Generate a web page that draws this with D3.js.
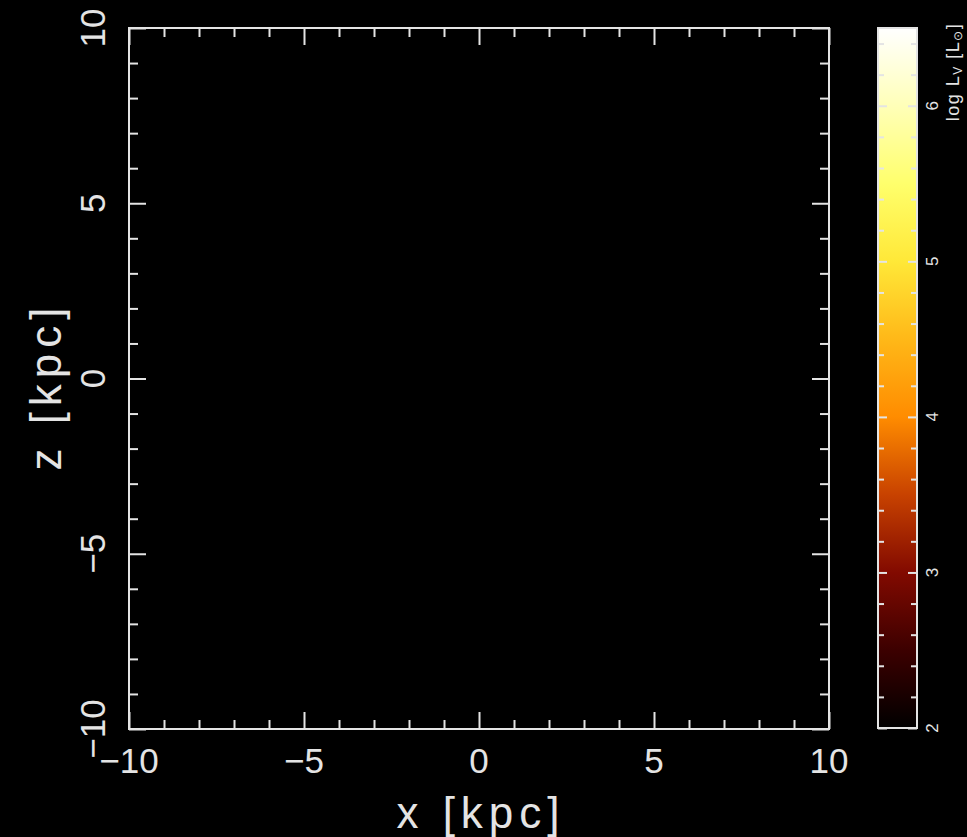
<!DOCTYPE html>
<html>
<head>
<meta charset="utf-8">
<script src="https://d3js.org/d3.v7.min.js"></script>
<style>
  body { margin: 0; background: #000; }
  svg { display: block; background: #000; }
  .tick line { stroke: #e4e4e4; stroke-width: 2; }
  .domain { display: none; }
  text { fill: #e4e4e4; font-family: "Liberation Sans", sans-serif; }
  rect.frame { fill: none; stroke: #e4e4e4; stroke-width: 2; }
</style>
</head>
<body>
<svg id="chart" width="967" height="837"></svg>
<script>
  // axis extents and ticks (kpc)
  var xDomain = [-10, 10];
  var zDomain = [-10, 10];
  var majorTicks = [-10, -5, 0, 5, 10];
  var minorTicks = [-9, -8, -7, -6, -4, -3, -2, -1, 1, 2, 3, 4, 6, 7, 8, 9];

  // colour bar: log L_V [L_sun]
  var cbDomain = [2, 6.5];
  var cbMajor = [2, 3, 4, 5, 6];
  var cbMinor = [2.2, 2.4, 2.6, 2.8, 3.2, 3.4, 3.6, 3.8, 4.2, 4.4, 4.6, 4.8,
                 5.2, 5.4, 5.6, 5.8, 6.2, 6.4];
  var cbStopValues = [2.0, 2.5, 3.0, 3.5, 4.0, 4.5, 5.0, 5.5, 6.0, 6.5];
  var cbStopColors = ['#000000', '#3c0000', '#820a00', '#c84200', '#ff8c00',
                      '#ffb818', '#ffe838', '#ffff6c', '#ffffb8', '#ffffff'];

  var svg = d3.select('#chart');
  // note: "top" is reserved on window, so use plot* names
  var plotLeft = 129, plotRight = 829, plotTop = 28, plotBottom = 729;

  var x = d3.scaleLinear().domain(xDomain).range([plotLeft, plotRight]);
  var z = d3.scaleLinear().domain(zDomain).range([plotBottom, plotTop]);

  function fmt(d) { return d < 0 ? '\u2212' + (-d) : '' + d; }

  // inward ticks on all four sides
  function ticks(axis, tx, ty, values, size) {
    svg.append('g')
      .attr('transform', 'translate(' + tx + ',' + ty + ')')
      .call(axis.tickValues(values).tickSize(-size).tickFormat(''));
  }
  [[majorTicks, 17], [minorTicks, 9]].forEach(function(t) {
    ticks(d3.axisBottom(x), 0, plotBottom, t[0], t[1]);
    ticks(d3.axisTop(x), 0, plotTop, t[0], t[1]);
    ticks(d3.axisLeft(z), plotLeft, 0, t[0], t[1]);
    ticks(d3.axisRight(z), plotRight, 0, t[0], t[1]);
  });

  svg.append('rect').classed('frame', true)
    .attr('x', plotLeft).attr('y', plotTop)
    .attr('width', plotRight - plotLeft).attr('height', plotBottom - plotTop);

  // tick labels
  svg.append('g').selectAll('text')
      .data(majorTicks)
    .enter().append('text')
      .attr('x', function(d) { return x(d); })
      .attr('y', 773)
      .attr('text-anchor', 'middle')
      .style('font-size', '35px')
      .text(fmt);

  svg.append('g').selectAll('text')
      .data(majorTicks)
    .enter().append('text')
      .attr('transform', function(d) { return 'translate(105,' + z(d) + ') rotate(-90)'; })
      .attr('text-anchor', 'middle')
      .style('font-size', '35px')
      .text(fmt);

  // axis titles
  svg.append('text')
    .attr('x', 481).attr('y', 828)
    .attr('text-anchor', 'middle')
    .style('font-size', '44px')
    .style('letter-spacing', '6px')
    .text('x [kpc]');

  svg.append('text')
    .attr('transform', 'translate(61,386) rotate(-90)')
    .attr('text-anchor', 'middle')
    .style('font-size', '44px')
    .style('letter-spacing', '6px')
    .text('z [kpc]');

  // colour bar
  var cbLeft = 878, cbRight = 917;
  var cb = d3.scaleLinear().domain(cbDomain).range([728, 28]);
  var grad = svg.append('defs').append('linearGradient')
    .attr('id', 'heat')
    .attr('x1', 0).attr('y1', 1).attr('x2', 0).attr('y2', 0);
  grad.selectAll('stop')
      .data(cbStopValues)
    .enter().append('stop')
      .attr('offset', function(d) { return (d - cbDomain[0]) / (cbDomain[1] - cbDomain[0]); })
      .attr('stop-color', function(d, i) { return cbStopColors[i]; });

  svg.append('rect')
    .attr('x', cbLeft).attr('y', cb(cbDomain[1]))
    .attr('width', cbRight - cbLeft)
    .attr('height', cb(cbDomain[0]) - cb(cbDomain[1]))
    .attr('fill', 'url(#heat)');

  [[cbMajor, 9], [cbMinor, 6]].forEach(function(t) {
    svg.append('g')
      .attr('transform', 'translate(' + cbLeft + ',0)')
      .call(d3.axisRight(cb).tickValues(t[0]).tickSize(t[1]).tickFormat(''));
    svg.append('g')
      .attr('transform', 'translate(' + cbRight + ',0)')
      .call(d3.axisLeft(cb).tickValues(t[0]).tickSize(t[1]).tickFormat(''));
  });

  svg.append('rect').classed('frame', true)
    .attr('x', cbLeft).attr('y', cb(cbDomain[1]))
    .attr('width', cbRight - cbLeft)
    .attr('height', cb(cbDomain[0]) - cb(cbDomain[1]));

  svg.append('g').selectAll('text')
      .data(cbMajor)
    .enter().append('text')
      .attr('transform', function(d) { return 'translate(938,' + cb(d) + ') rotate(-90)'; })
      .attr('text-anchor', 'middle')
      .style('font-size', '17px')
      .text(function(d) { return d; });

  var cbTitle = svg.append('text')
    .attr('transform', 'translate(959,72) rotate(-90)')
    .attr('text-anchor', 'middle')
    .style('font-size', '18px')
    .style('letter-spacing', '1.5px');
  cbTitle.append('tspan').text('log L');
  cbTitle.append('tspan').attr('dy', 3).style('font-size', '12px').text('V');
  cbTitle.append('tspan').attr('dy', -3).text(' [L');
  cbTitle.append('tspan').attr('dy', 3).style('font-size', '12px').text('\u2299');
  cbTitle.append('tspan').attr('dy', -3).text(']');
</script>
</body>
</html>
